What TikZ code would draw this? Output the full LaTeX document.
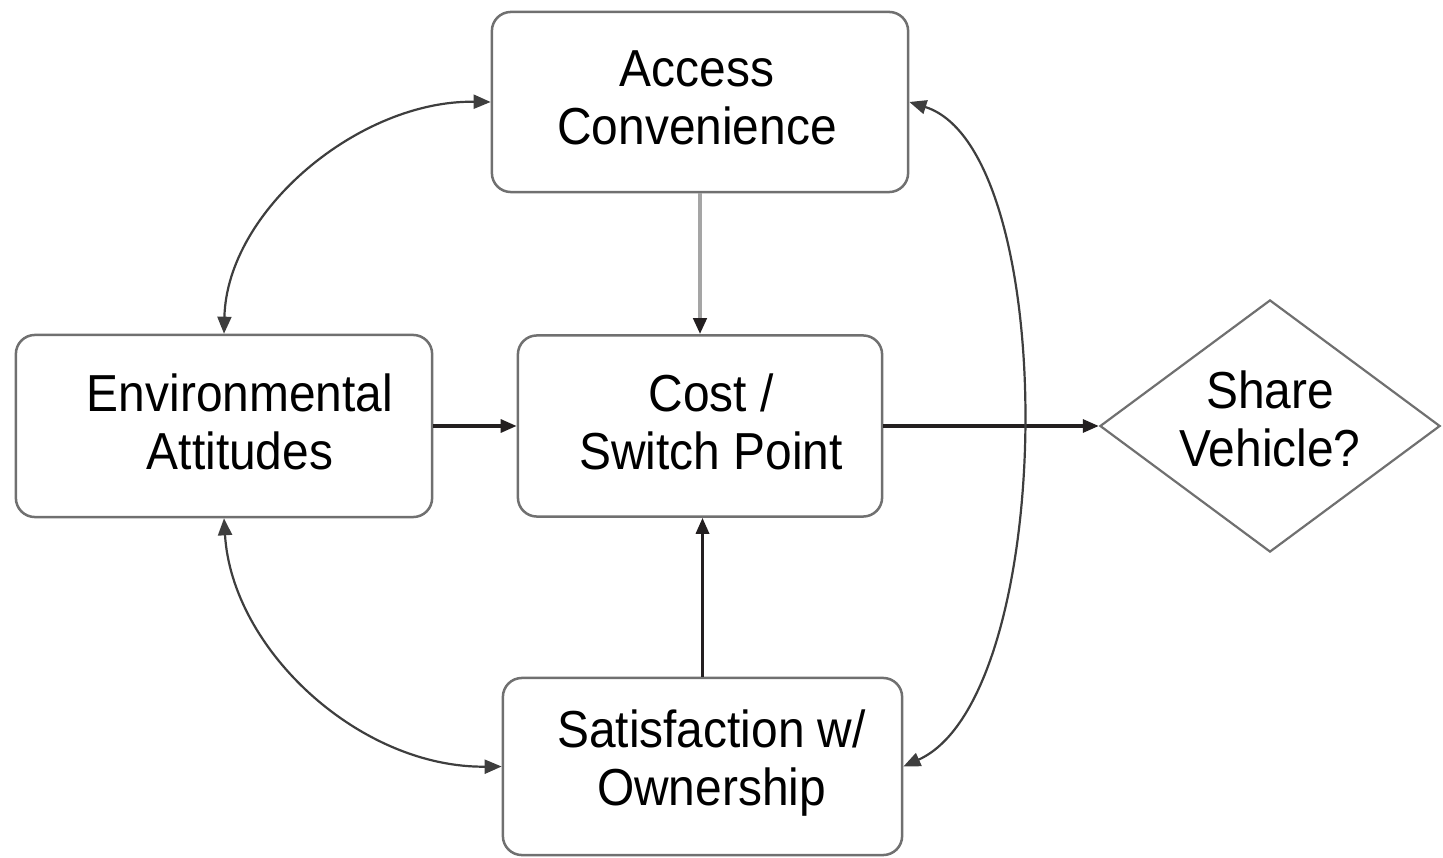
\documentclass[tikz,border=0pt]{standalone}
\usepackage{fontspec}
\setmainfont{Liberation Sans}[FakeStretch=0.92]
\usetikzlibrary{arrows.meta,shapes.geometric,calc}

\definecolor{boxline}{RGB}{112,112,112}
\definecolor{ink}{RGB}{35,31,32}
\definecolor{curveink}{RGB}{62,62,62}
\definecolor{lightlink}{RGB}{165,165,165}

\tikzset{
  flowbox/.style={draw=boxline, line width=0.025cm, rounded corners=0.19cm,
    fill=white, inner sep=0pt},
  decision/.style={draw=boxline, line width=0.022cm, diamond, aspect=1.35,
    inner sep=0pt, minimum width=3.4cm, minimum height=2.52cm},
  label text/.style={align=center, inner sep=0pt,
    font=\fontsize{14.8pt}{16.5pt}\selectfont},
  tip/.style={-{Triangle[length=0.16cm,width=0.13cm]}},
  bitip/.style={{Triangle[length=0.17cm,width=0.14cm]}-{Triangle[length=0.17cm,width=0.14cm]}},
  flow/.style={tip, draw=ink, line width=0.032cm},
  loop/.style={bitip, draw=curveink, line width=0.022cm},
}

\begin{document}
\begin{tikzpicture}[x=0.01cm, y=-0.01cm]
\useasboundingbox (0,0) rectangle (1443,858);

% boxes
\node[flowbox, minimum width=4.16cm, minimum height=1.80cm] (acc) at (700,102) {};
\node[flowbox, minimum width=4.16cm, minimum height=1.82cm] (env) at (224,426) {};
\node[flowbox, minimum width=3.64cm, minimum height=1.81cm] (cost) at (700,426) {};
\node[flowbox, minimum width=3.99cm, minimum height=1.77cm] (sat) at (702.5,766.5) {};
\node[decision] (share) at (1270,426) {};

% captions
\node[label text] (acctxt)   at ($(acc.center)+(-3,-4)$)  {Access\\Convenience};
\node[label text] (envtxt)   at ($(env.center)+(16,-4)$)  {Environmental\\Attitudes};
\node[label text] (costtxt)  at ($(cost.center)+(11,-4)$) {Cost /\\Switch Point};
\node[label text] (sattxt)   at ($(sat.center)+(9,-3)$)   {Satisfaction w/\\Ownership};
\node[label text] (sharetxt) at ($(share.center)+(0,-7)$) {Share\\Vehicle?};

% straight links
\draw[draw=lightlink, line width=0.04cm,
      -{Triangle[length=0.16cm,width=0.13cm,color=ink]}] (acc.south) -- (cost.north);
\draw[flow] (env.east) -- (cost.west);
\draw[flow] (cost.east) -- (share.west);
\draw[flow] (sat.north) -- (sat.north |- cost.south);

% two-way links
\draw[loop] (acc.west) .. controls (360,100) and (227,210) .. (env.north);
\draw[loop] (env.south) .. controls (232,650) and (360,768) .. (sat.west);
\draw[loop] (acc.east) .. controls (1062,150) and (1058,697) .. (sat.east);
\end{tikzpicture}
\end{document}
